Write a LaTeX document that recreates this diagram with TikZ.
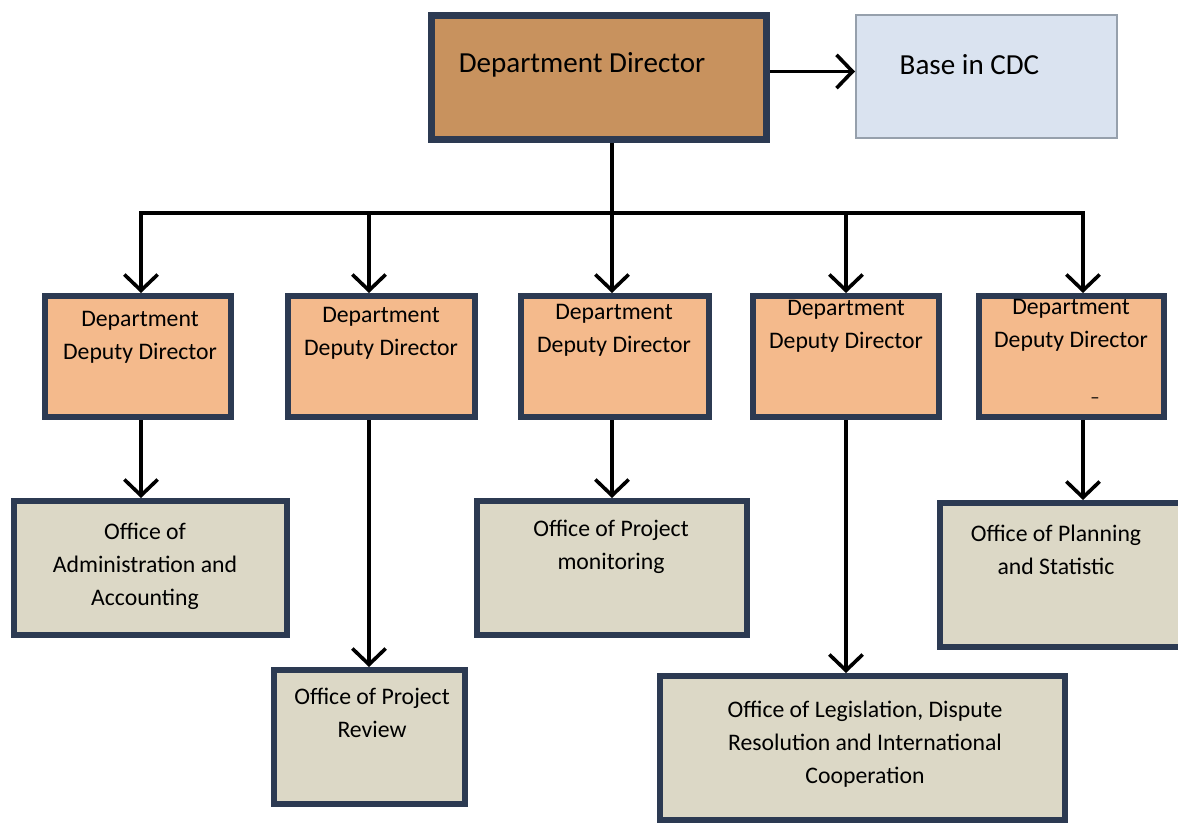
\documentclass[tikz,border=0pt]{standalone}
\usepackage{fontspec}
\setmainfont{Carlito}
\usetikzlibrary{arrows.meta}
\definecolor{navy}{RGB}{44,58,82}
\definecolor{dirfill}{RGB}{200,146,94}
\definecolor{basefill}{RGB}{218,227,240}
\definecolor{baseline}{RGB}{150,160,172}
\definecolor{depfill}{RGB}{244,186,140}
\definecolor{offfill}{RGB}{220,216,198}
\begin{document}
\begin{tikzpicture}[x=0.75pt,y=-0.75pt,
  box/.style={rectangle, inner sep=0pt},
  dirbox/.style={box, draw=navy, fill=dirfill, line width=5.25pt, minimum width=251.25pt, minimum height=93pt},
  basebox/.style={box, draw=baseline, fill=basefill, line width=1.5pt, minimum width=195.75pt, minimum height=92.25pt},
  depbox/.style={box, draw=navy, fill=depfill, line width=4.5pt, minimum height=90.75pt},
  offbox/.style={box, draw=navy, fill=offfill, line width=4.5pt},
  bigtxt/.style={inner sep=0pt, align=center, font=\fontsize{21.8}{26}\selectfont},
  txt/.style={inner sep=0pt, align=center, font=\fontsize{17.8}{24.75}\selectfont},
  arr/.style={line width=2.7pt, -{Straight Barb[length=12pt,width=25pt]}},
  ln/.style={line width=2.7pt}]
\useasboundingbox[fill=white] (0,0) rectangle (1178,827);

% top
\node[dirbox] (dir) at (599,77.5) {};
\node[bigtxt] (dirt) at (582,65) {Department Director};
\node[basebox] (base) at (986.5,76.5) {};
\node[bigtxt] (baset) at (969.5,65) {Base in CDC};

% deputies
\node[depbox, minimum width=139.5pt] (d1) at (138,356.5) {};
\node[depbox, minimum width=140.25pt] (d2) at (381.5,356.5) {};
\node[depbox, minimum width=141pt] (d3) at (615,356.5) {};
\node[depbox, minimum width=139.5pt] (d4) at (846,356.5) {};
\node[depbox, minimum width=138.75pt] (d5) at (1071.5,356.5) {};
\node[txt] (d1t) at (140,337.5) {Department\\Deputy Director};
\node[txt] (d2t) at (381,333.5) {Department\\Deputy Director};
\node[txt] (d3t) at (614,330) {Department\\Deputy Director};
\node[txt] (d4t) at (846,326.5) {Department\\Deputy Director};
\node[txt] (d5t) at (1071,325) {Department\\Deputy Director};
\node[inner sep=0pt, font=\fontsize{14}{14}\selectfont] (d5dash) at (1095,401) {–};

% offices
\node[offbox, minimum width=204.75pt, minimum height=100.5pt] (o1) at (150.5,568) {};
\node[offbox, minimum width=143.25pt, minimum height=100.5pt] (o2) at (369.5,737) {};
\node[offbox, minimum width=202.5pt, minimum height=100.5pt] (o3) at (612,568) {};
\node[offbox, minimum width=303.75pt, minimum height=108pt] (o4) at (862.5,748) {};
\node[offbox, minimum width=187.5pt, minimum height=108pt] (o5) at (1065,575) {};
\node[txt] (o1t) at (145,566.5) {Office of\\Administration and\\Accounting};
\node[txt] (o2t) at (372,713) {Office of Project\\Review};
\node[txt] (o3t) at (611,546.5) {Office of Project\\monitoring};
\node[txt] (o4t) at (865,744.5) {Office of Legislation, Dispute\\Resolution and International\\Cooperation};
\node[txt] (o5t) at (1056,550) {Office of Planning\\and Statistic};

% bus coordinates
\coordinate (b1) at (141,213);
\coordinate (b2) at (369,213);
\coordinate (b3) at (612,213);
\coordinate (b4) at (846,213);
\coordinate (b5) at (1083,213);

% connectors
\draw[arr] ([yshift=4.5pt]dir.east) -- ([yshift=4.5pt]dir.east -| base.west);
\draw[ln] (dir.south -| b3) -- (b3);
\draw[ln, line cap=rect] (b1) -- (b5);
\foreach \i in {1,...,5} {
  \draw[arr] (b\i) -- (b\i |- d\i.north);
  \draw[arr] (b\i |- d\i.south) -- (b\i |- o\i.north);
}
\end{tikzpicture}
\end{document}
